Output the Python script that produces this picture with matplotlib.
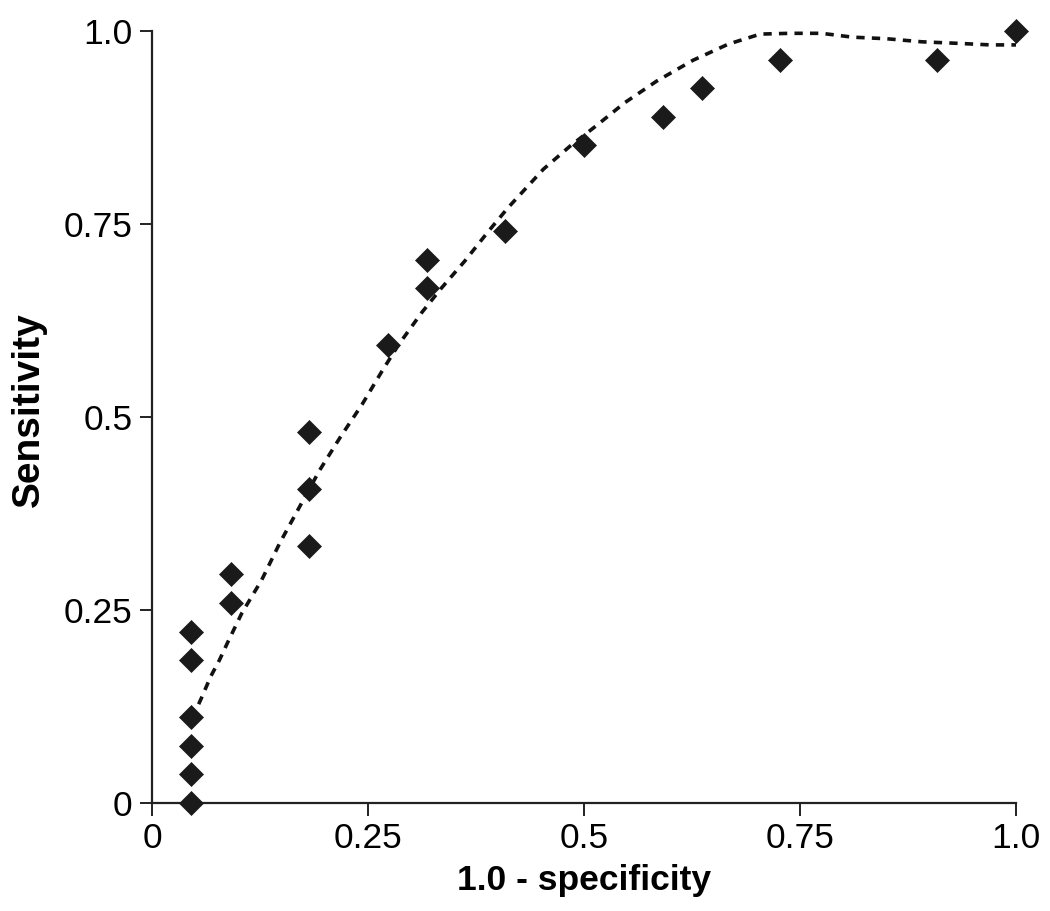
import matplotlib
matplotlib.use("Agg")
import matplotlib.pyplot as plt

# observed ROC points (1 - specificity, sensitivity)
fpr = [0.045, 0.045, 0.045, 0.045, 0.045, 0.045,
       0.091, 0.091,
       0.182, 0.182, 0.182,
       0.273, 0.318, 0.318, 0.409, 0.5, 0.591, 0.636, 0.727, 0.909, 1.0]
sens = [0.0, 0.037, 0.074, 0.111, 0.185, 0.222,
        0.259, 0.296,
        0.333, 0.407, 0.481,
        0.593, 0.667, 0.704, 0.741, 0.852, 0.889, 0.926, 0.963, 0.963, 1.0]

# fitted trend curve
fit_x = [0.054, 0.058, 0.068, 0.078, 0.088, 0.104, 0.127, 0.148, 0.169, 0.194,
         0.218, 0.243, 0.266, 0.285, 0.312, 0.335, 0.362, 0.389, 0.412, 0.453,
         0.484, 0.515, 0.547, 0.584, 0.626, 0.667, 0.704, 0.738, 0.775, 0.811,
         0.850, 0.891, 0.933, 0.970, 1.0]
fit_y = [0.128, 0.138, 0.164, 0.185, 0.209, 0.246, 0.289, 0.337, 0.380, 0.431,
         0.474, 0.516, 0.559, 0.593, 0.635, 0.667, 0.702, 0.740, 0.771, 0.821,
         0.851, 0.878, 0.907, 0.935, 0.962, 0.983, 0.996, 0.997, 0.997, 0.992,
         0.990, 0.986, 0.984, 0.982, 0.982]

ticks = [0, 0.25, 0.5, 0.75, 1.0]
tick_labels = ["0", "0.25", "0.5", "0.75", "1.0"]

plt.rcParams['font.family'] = ['Liberation Sans', 'DejaVu Sans']

fig = plt.figure(figsize=(10.5, 9.11), dpi=100)
ax = fig.add_axes([152 / 1050, 1 - 803 / 911, 864 / 1050, 772 / 911])

ax.plot(fit_x, fit_y, color='#111111', lw=2.6, dashes=(2.3, 2.0), zorder=2)
ax.plot(fpr, sens, 'D', color='#1a1a1a', ms=12.5, mec='#1a1a1a', mew=0.5,
        zorder=3, clip_on=False)

ax.set_xlim(0, 1.0)
ax.set_ylim(0, 1.0)
ax.set_xticks(ticks)
ax.set_xticklabels(tick_labels)
ax.set_yticks(ticks)
ax.set_yticklabels(tick_labels)

for side in ['top', 'right']:
    ax.spines[side].set_visible(False)
for side in ['left', 'bottom']:
    ax.spines[side].set_linewidth(1.6)
    ax.spines[side].set_color('#222222')

ax.tick_params(direction='out', length=9, width=1.4, color='#222222',
               labelsize=25.5, pad=5)

ax.set_xlabel("1.0 - specificity", fontsize=25.5, fontweight='bold', labelpad=6)
ax.set_ylabel("Sensitivity", fontsize=28, fontweight='bold')
ax.yaxis.set_label_coords(-0.122, 0.51)

fig.savefig("out.png", dpi=100)
